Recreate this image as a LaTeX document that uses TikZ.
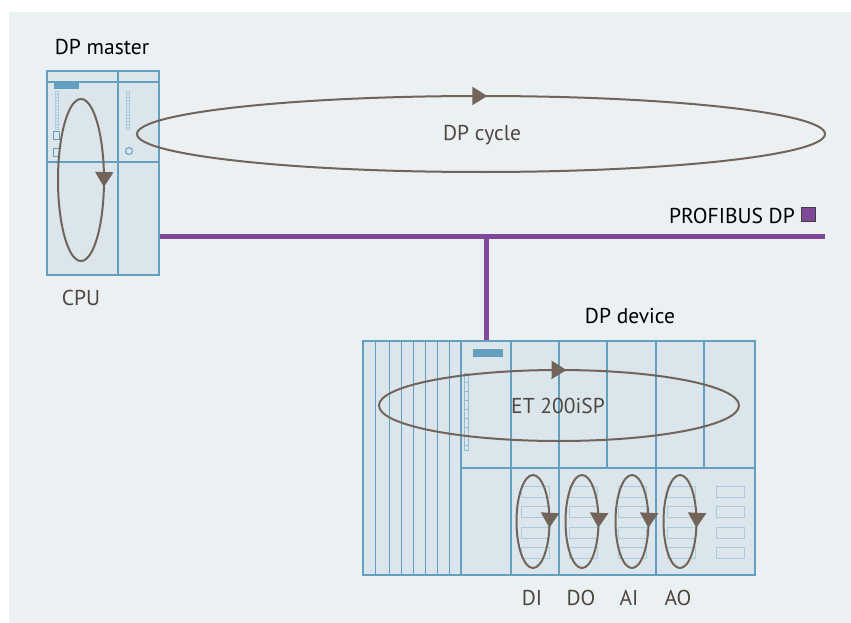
\documentclass[tikz,border=0pt]{standalone}
\usepackage{fontspec}
\setmainfont{PT Sans}
\usetikzlibrary{arrows.meta,decorations.markings,positioning}
\definecolor{bg_grey}{RGB}{235,240,243}
\definecolor{mod_fill}{RGB}{218,230,236}
\definecolor{mod_blue}{RGB}{100,160,190}
\definecolor{slot_blue}{RGB}{172,204,220}
\definecolor{cyc_brown}{RGB}{115,100,90}
\definecolor{text_brown}{RGB}{80,70,65}
\definecolor{bus_purple}{RGB}{128,72,152}
\tikzstyle{module}=[rectangle,fill=mod_fill,draw=mod_blue,line width=2.5pt,inner sep=0pt]
\tikzstyle{bus}=[draw=bus_purple,line width=5pt]
\tikzstyle{lbl}=[font=\fontsize{21.5}{25}\selectfont,text=text_brown,inner sep=0pt,anchor=base]
\tikzstyle{heading}=[font=\fontsize{21.5}{25}\selectfont,text=black,inner sep=0pt,anchor=base]
\tikzstyle{none}=[]
% cycle ellipse, arrow head at the given fraction of the path
\tikzset{cyc/.style={draw=cyc_brown,line width=2pt,postaction={decorate},
  decoration={markings,mark=at position #1 with {\arrow[cyc_brown]{Triangle[length=15pt,width=18pt]}}}}}

\begin{document}
\begin{tikzpicture}[x=1pt,y=-1pt]
  \useasboundingbox (0,0) rectangle (851,623);
  \fill[bg_grey] (9,12) rectangle (851,623);

  % DP master
  \node [style=module, minimum width=112pt, minimum height=204pt] (0) at (103,173) {};
  \draw [mod_blue, line width=1.5pt] (47,82) -- (159,82);
  \draw [mod_blue, line width=1.5pt] (47,162) -- (159,162);
  \draw [mod_blue, line width=1.5pt] (118,71) -- (118,275);
  \fill [mod_blue] (54,83) rectangle (79,89);
  \foreach \x in {55,126} {
    \draw [slot_blue, line width=0.8pt] (\x,91) rectangle (\x+3,129);
    \foreach \y in {94,97,...,127} \draw [slot_blue, line width=0.5pt] (\x,\y) -- (\x+3,\y);
  }
  \draw [mod_blue, line width=1pt] (53,132) rectangle (59,140);
  \draw [mod_blue, line width=1pt] (53,148) rectangle (59,156);
  \draw [mod_blue, line width=1pt] (129,151) circle [radius=3.5];

  % DP device
  \node [style=module, minimum width=392pt, minimum height=234pt] (1) at (559,458) {};
  \foreach \x in {375,389,401,413,425,437,449}
    \draw [mod_blue, line width=1pt] (\x,341) -- (\x,575);
  \foreach \x in {461,511,559,656}
    \draw [mod_blue, line width=2.5pt] (\x,341) -- (\x,575);
  \foreach \x in {607,704}
    \draw [mod_blue, line width=2.5pt] (\x,341) -- (\x,468);
  \draw [mod_blue, line width=1.5pt] (461,468) -- (511,468);
  \draw [mod_blue, line width=2.5pt] (511,468) -- (755,468);
  \fill [mod_blue] (473,349) rectangle (503,357);
  \draw [mod_blue!70, line width=0.8pt] (464,373) rectangle (468,450);
  \foreach \y in {382,391,...,445} \draw [mod_blue!70, line width=0.8pt] (464,\y) -- (468,\y);
  \foreach \x in {521,569,618,667,716}
    \foreach \y in {486,506,527,547}
      \draw [slot_blue, line width=1pt] (\x,\y) rectangle ++(28,11);

  % PROFIBUS DP
  \coordinate (9) at (825,236);
  \coordinate (10) at (486,236);
  \draw [style=bus] (0.east |- 9) to (9);
  \draw [style=bus] (10) to (1.north -| 10);
  \node [style=heading, anchor=base east] (7) at (795,223) {PROFIBUS DP};
  \node [fill=bus_purple, draw=black!75, line width=1pt, minimum size=14pt, inner sep=0pt] (8) at (808.5,214.5) {};

  % cycles
  \draw [cyc=0.7545] (481,134) ellipse [x radius=344, y radius=38];
  \draw [cyc=0.02] (81,180) ellipse [x radius=23, y radius=81];
  \draw [cyc=0.76] (559,405.5) ellipse [x radius=180, y radius=35.5];
  \foreach \x in {533,582,632,680}
    \draw [cyc=0.03] (\x,521.5) ellipse [x radius=16.5, y radius=46.5];

  % labels
  \node [style=heading] (2) at (102,55) {DP master};
  \node [style=lbl] (3) at (81,305) {CPU};
  \node [style=lbl] (4) at (482,141) {DP cycle};
  \node [style=heading] (5) at (630,323.5) {DP device};
  \node [style=lbl] (6) at (558,413) {ET 200iSP};
  \foreach \t/\x [count=\i from 11] in {DI/532,DO/581,AI/629,AO/678}
    \node [style=lbl] (\i) at (\x,605) {\t};
\end{tikzpicture}
\end{document}
